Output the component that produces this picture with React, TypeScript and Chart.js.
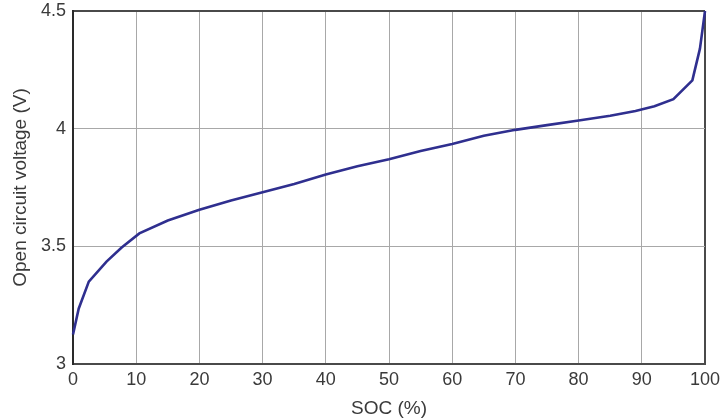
import React, { useEffect, useRef } from "react";
import { Chart, registerables } from "chart.js";

Chart.register(...registerables);

// State of charge (%) and the matching open circuit voltage (V)
const socPercent = [
  0, 0.9, 2.5, 5.3, 7.7, 10.5, 15, 20, 25, 30, 35, 40, 45, 50, 55, 60, 65, 70,
  75, 80, 85, 89, 92, 95, 98, 99.2, 99.6, 100,
];
const ocvVolts = [
  3.125, 3.235, 3.35, 3.435, 3.495, 3.555, 3.61, 3.655, 3.695, 3.73, 3.765,
  3.805, 3.84, 3.87, 3.905, 3.935, 3.97, 3.995, 4.015, 4.035, 4.055, 4.075,
  4.095, 4.125, 4.205, 4.34, 4.42, 4.5,
];

const xTicks = [0, 10, 20, 30, 40, 50, 60, 70, 80, 90, 100];
const yTicks = [3, 3.5, 4, 4.5];
const yTickLabels = ["3", "3.5", "4", "4.5"];

const FONT = "'Liberation Sans', Arial, Helvetica, sans-serif";
const TEXT = "#3a3a3a";
const GRID = "#a8a8a8";
const FRAME = "#4a4a4a";

export default function App() {
  const canvasRef = useRef<HTMLCanvasElement | null>(null);

  useEffect(() => {
    const canvas = canvasRef.current;
    if (!canvas) return;
    const chart = new Chart(canvas, {
      type: "line",
      data: {
        datasets: [
          {
            data: socPercent.map((s, i) => ({ x: s, y: ocvVolts[i] })),
            borderColor: "#2f2f8f",
            borderWidth: 2.6,
            pointRadius: 0,
            tension: 0,
            fill: false,
            clip: false,
          },
        ],
      },
      options: {
        responsive: false,
        animation: false,
        layout: { padding: { top: 11, right: 23, left: 0, bottom: 0 } },
        plugins: {
          legend: { display: false },
          tooltip: { enabled: false },
        },
        scales: {
          x: {
            type: "linear",
            min: 0,
            max: 100,
            afterBuildTicks: (scale: any) => {
              scale.ticks = xTicks.map((v) => ({ value: v }));
            },
            afterFit: (scale: any) => {
              scale.height = 56;
              scale.paddingLeft = 0;
              scale.paddingRight = 0;
            },
            ticks: {
              color: TEXT,
              font: { family: FONT, size: 18 },
              padding: 5,
              maxRotation: 0,
              autoSkip: false,
            },
            grid: {
              drawTicks: false,
              color: (ctx: any) =>
                ctx.tick && ctx.tick.value === 100 ? FRAME : GRID,
              lineWidth: (ctx: any) =>
                ctx.tick && ctx.tick.value === 100 ? 2 : 1,
            },
            border: { color: FRAME, width: 2 },
            title: {
              display: true,
              text: "SOC (%)",
              color: TEXT,
              font: { family: FONT, size: 19 },
              padding: { top: 0, bottom: 0 },
            },
          },
          y: {
            type: "linear",
            min: 3,
            max: 4.5,
            afterBuildTicks: (scale: any) => {
              scale.ticks = yTicks.map((v) => ({ value: v }));
            },
            afterFit: (scale: any) => {
              scale.width = 73;
              scale.paddingTop = 0;
              scale.paddingBottom = 0;
            },
            ticks: {
              color: TEXT,
              font: { family: FONT, size: 18 },
              padding: 7,
              autoSkip: false,
              callback: (value: any) => {
                const i = yTicks.indexOf(Number(value));
                return i >= 0 ? yTickLabels[i] : "";
              },
            },
            grid: {
              drawTicks: false,
              color: (ctx: any) =>
                ctx.tick && ctx.tick.value === 4.5 ? FRAME : GRID,
              lineWidth: (ctx: any) =>
                ctx.tick && ctx.tick.value === 4.5 ? 2 : 1,
            },
            border: { color: "#2a2a2a", width: 2 },
            title: {
              display: true,
              text: "Open circuit voltage (V)",
              color: TEXT,
              font: { family: FONT, size: 19 },
              padding: { top: 9, bottom: 0 },
            },
          },
        },
      },
    });
    return () => chart.destroy();
  }, []);

  return (
    <div
      style={{
        position: "fixed",
        left: 0,
        top: 0,
        width: 728,
        height: 420,
        background: "#ffffff",
      }}
    >
      <canvas ref={canvasRef} width={728} height={420} />
    </div>
  );
}
